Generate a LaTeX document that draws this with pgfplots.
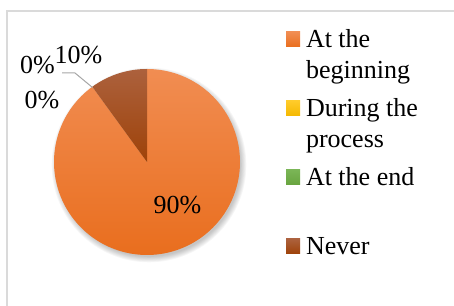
\documentclass[border=0pt]{standalone}
\usepackage{fontspec}
\setmainfont{Liberation Serif}
\usepackage{pgfplots}
\pgfplotsset{compat=1.18}
\definecolor{orTop}{HTML}{F18D52}
\definecolor{orBot}{HTML}{E96E1E}
\definecolor{brTop}{HTML}{AC613D}
\definecolor{brBot}{HTML}{9E4208}
\definecolor{yeTop}{HTML}{FFCB2A}
\definecolor{yeBot}{HTML}{F4B800}
\definecolor{grTop}{HTML}{7AB556}
\definecolor{grBot}{HTML}{68A43F}
\definecolor{frameGray}{HTML}{DADADA}
\definecolor{leader}{HTML}{A6A6A6}
\newcommand{\lf}{\fontsize{26bp}{30.7bp}\selectfont}
% shares (percent): At the beginning, During the process, At the end, Never
\def\vA{90}\def\vB{0}\def\vC{0}\def\vD{10}
\def\cx{147}\def\cy{144}\def\rr{93}
\begin{document}
\begin{tikzpicture}
\begin{axis}[width=454bp,height=306bp,scale only axis,anchor=south west,at={(0,0)},
  xmin=0,xmax=454,ymin=0,ymax=306,hide axis,
  legend style={at={(axis cs:286,279.5)},anchor=north west,draw=none,fill=none,
    inner sep=0pt,outer sep=0pt,row sep=7.6bp,column sep=6bp,font=\lf,
    nodes={inner sep=0pt,outer sep=0pt,anchor=base west,text height=21.5bp,text depth=39.9bp}},
  legend cell align=left,
  legend image code/.code={\path[#1] (0bp,1bp) rectangle (14bp,16bp);}]
% frame
\draw[frameGray,line width=2bp] (axis cs:6.5,0) -- (axis cs:6.5,295) -- (axis cs:454,295);
% soft shadow
\pgfplotsinvokeforeach{1,...,7}{
  \fill[black,opacity=0.035] (axis cs:149,141) circle[radius={93+#1*0.9-2}];
}
% slices
\addplot[forget plot,draw=none,top color=orTop,bottom color=orBot,domain={90-3.6*\vA}:90,samples=150,variable=\t]
  ({\cx+\rr*cos(t)},{\cy+\rr*sin(t)}) -- (axis cs:\cx,\cy) -- cycle;
\addplot[forget plot,draw=none,top color=brTop,bottom color=brBot,domain=90:{90+3.6*\vD},samples=30,variable=\t]
  ({\cx+\rr*cos(t)},{\cy+\rr*sin(t)}) -- (axis cs:\cx,\cy) -- cycle;
% legend
\addlegendimage{top color=orTop,bottom color=orBot,draw=none}
\addlegendentry{\parbox[t]{140bp}{At the\\beginning}}
\addlegendimage{top color=yeTop,bottom color=yeBot,draw=none}
\addlegendentry{\parbox[t]{140bp}{During the\\process}}
\addlegendimage{top color=grTop,bottom color=grBot,draw=none}
\addlegendentry{\parbox[t]{140bp}{At the end}}
\addlegendimage{top color=brTop,bottom color=brBot,draw=none}
\addlegendentry{\parbox[t]{140bp}{Never}}
% labels
\draw[leader,line width=1bp] (axis cs:62,233) -- (axis cs:75,233) -- (axis cs:92.5,218.5);
\node[font=\lf,text height=,text depth=] at (axis cs:177.5,101) {90\%};
\node[font=\lf] at (axis cs:78.5,251) {10\%};
\node[font=\lf] at (axis cs:37.5,241) {0\%};
\node[font=\lf] at (axis cs:42,205.5) {0\%};
\end{axis}
\pgfresetboundingbox
\path (0,0) rectangle (454bp,306bp);
\end{tikzpicture}
\end{document}
